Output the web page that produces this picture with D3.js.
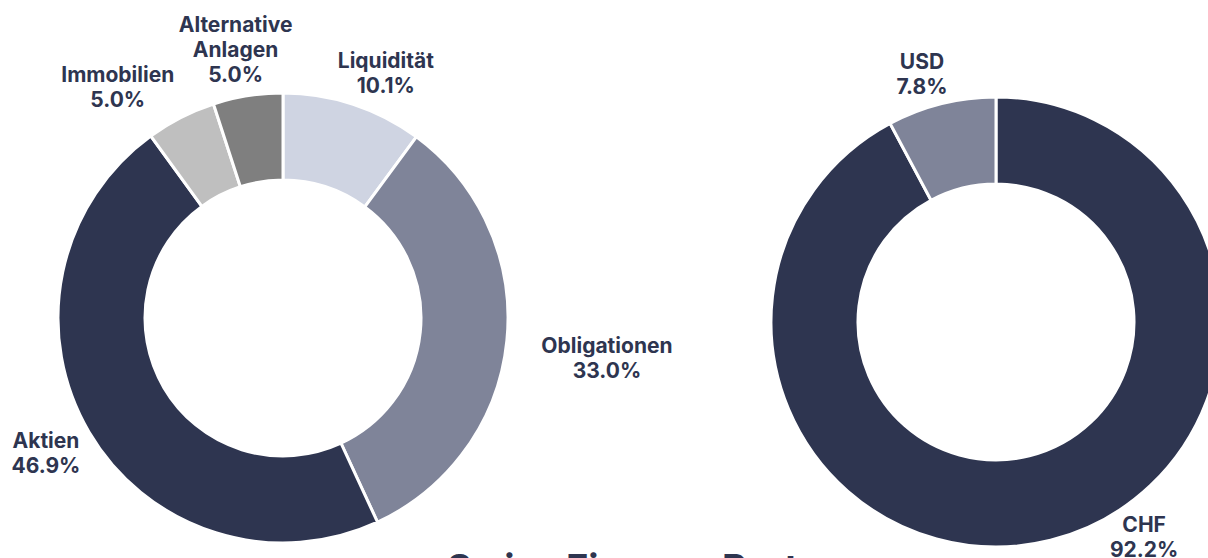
<!DOCTYPE html>
<html>
<head>
<meta charset="utf-8">
<script src="https://cdn.jsdelivr.net/npm/d3@7"></script>
<style>
  html, body { margin: 0; padding: 0; background: #fff; }
  svg { display: block; font-family: Inter, "Noto Sans", sans-serif; }
</style>
</head>
<body>
<svg width="1208" height="558"></svg>
<script>
// asset allocation (left donut)
const assetNames = ["Liquidität", "Obligationen", "Aktien", "Immobilien", "Alternative Anlagen"];
const assetLabels = [["Liquidität"], ["Obligationen"], ["Aktien"], ["Immobilien"], ["Alternative", "Anlagen"]];
const assetValues = [10.1, 33.0, 46.9, 5.0, 5.0];
// currency allocation (right donut)
const currencyNames = ["CHF", "USD"];
const currencyValues = [92.2, 7.8];

const titleText = "Swiss Finance Partners";

const assetColors = ["#cfd4e2", "#7f8499", "#2e3550", "#bfbfbf", "#7f7f7f"];
const currencyColors = ["#2e3550", "#7f8499"];

// small tweaks for label placement (px), the rest comes from the arc angle
const nudges = {
  "Liquidität": [7, 1], "Obligationen": [1, 14], "Aktien": [16, 4],
  "Immobilien": [-22, 0], "Alternative Anlagen": [2, -13],
  "USD": [-5, 3], "CHF": [77, -36]
};

const svg = d3.select("svg");
const outerR = 225, innerR = 138, lineH = 25;

function donut(cx, cy, names, labels, values, colors) {
  const g = svg.append("g").attr("transform", "translate(" + cx + "," + cy + ")");
  const pie = d3.pie().sort(null).value(d => d)(values);
  const arc = d3.arc().innerRadius(innerR).outerRadius(outerR);

  g.selectAll("path")
    .data(pie)
    .enter().append("path")
    .attr("d", arc)
    .attr("fill", (d, i) => colors[i])
    .attr("stroke", "#fff")
    .attr("stroke-width", 3);

  pie.forEach((d, i) => {
    const a = (d.startAngle + d.endAngle) / 2;
    const dx = Math.sin(a), dy = -Math.cos(a);
    const lines = labels[i].concat([d3.format(".1f")(values[i]) + "%"]);
    const t = g.append("text")
      .attr("text-anchor", "middle")
      .attr("font-weight", 700)
      .attr("font-size", 21)
      .attr("fill", "#2e3550");
    lines.forEach((s, k) => {
      t.append("tspan").attr("x", 0).attr("y", k * lineH).text(s);
    });
    const w = t.node().getBBox().width;
    const nd = nudges[names[i]] || [0, 0];
    const x = dx * (outerR + 34) + dx * w / 2 + nd[0];
    const y = dy * (outerR + 34) + nd[1] - (lines.length - 1) * lineH / 2 + 7.5;
    t.attr("transform", "translate(" + x + "," + y + ")");
  });
}

donut(283, 318, assetNames, assetLabels, assetValues, assetColors);
donut(996, 322, currencyNames, currencyNames.map(n => [n]), currencyValues, currencyColors);

svg.append("text")
  .attr("x", 447)
  .attr("y", 582)
  .attr("font-weight", 700)
  .attr("font-size", 38)
  .attr("fill", "#2e3550")
  .text(titleText);
</script>
</body>
</html>
